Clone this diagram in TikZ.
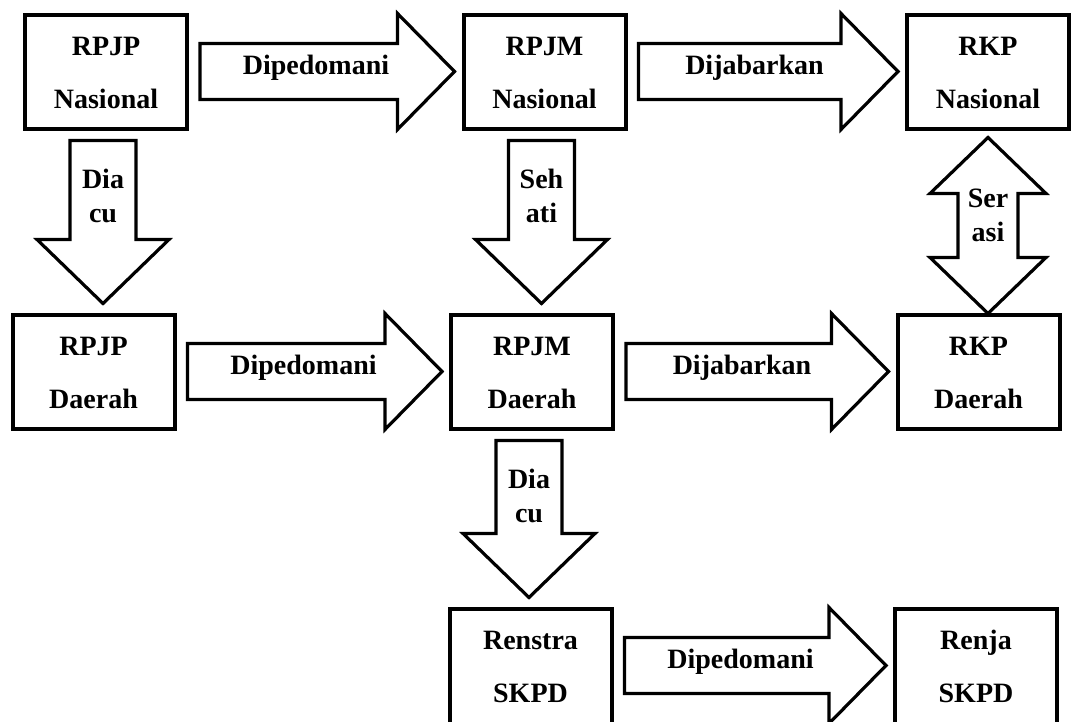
\documentclass[tikz,border=0pt]{standalone}
\usepackage{fontspec}
\setmainfont{Liberation Serif}
\usetikzlibrary{shapes,arrows,positioning,calc}

% fat arrows between the boxes
\newcommand{\hblock}[3]{%
  \draw[blockarrow] let \p1=($(#1.east)+(11,1)$), \p2=($(#2.west)+(-7,0)$) in
    (\x1,\y1+28) -- (\x2-57,\y1+28) -- (\x2-57,\y1+58) -- (\x2,\y1)
    -- (\x2-57,\y1-58) -- (\x2-57,\y1-28) -- (\x1,\y1-28) -- cycle
    node[arrowtext, anchor=base] (#1-#2) at (\x1+116,\y1-3) {#3};}
\newcommand{\vblock}[3]{%
  \draw[blockarrow] let \p1=($(#1.south)+(-3,-9)$), \p2=($(#2.north)+(0,10)$) in
    (\x1-33,\y1) -- (\x1+33,\y1) -- (\x1+33,\y2+64) -- (\x1+66,\y2+64) -- (\x1,\y2)
    -- (\x1-66,\y2+64) -- (\x1-33,\y2+64) -- cycle
    node[arrowtext, anchor=base] (#1-#2) at (\x1,\y1-82) {#3};}
\newcommand{\dblock}[3]{%
  \draw[blockarrow] let \p1=($(#1.south)+(0,-6)$), \p2=(#2.north) in
    (\x1,\y1) -- (\x1+58,\y1-56) -- (\x1+30,\y1-56) -- (\x1+30,\y2+56) -- (\x1+58,\y2+56)
    -- (\x1,\y2) -- (\x1-58,\y2+56) -- (\x1-30,\y2+56) -- (\x1-30,\y1-56) -- (\x1-58,\y1-56) -- cycle
    node[arrowtext, anchor=base] (#1-#2) at (\x1,\y1-104) {#3};}

\begin{document}
\begin{tikzpicture}[x=1pt, y=1pt,
    box/.style={draw, line width=4pt, minimum width=162pt, minimum height=114pt, align=center, font=\bfseries\fontsize{28}{53}\selectfont},
    blockarrow/.style={draw, line width=3.2pt, line join=miter, fill=white},
    arrowtext/.style={align=center, inner sep=0pt, font=\bfseries\fontsize{28}{34}\selectfont}]
  \useasboundingbox (0,0) rectangle (1072,721);
  \clip (0,0) rectangle (1072,721);

  % Nasional
  \node[box] (rpjpn) at (106,648.5) {RPJP\\Nasional};
  \node[box] (rpjmn) at (544.5,648.5) {RPJM\\Nasional};
  \node[box] (rkpn) at (988,648.5) {RKP\\Nasional};

  % Daerah
  \node[box] (rpjpd) at (93.5,348.5) {RPJP\\Daerah};
  \node[box] (rpjmd) at (532,348.5) {RPJM\\Daerah};
  \node[box] (rkpd) at (978.5,348.5) {RKP\\Daerah};

  % SKPD
  \node[box] (renstra) at (530.5,54.5) {Renstra\\SKPD};
  \node[box] (renja) at (976,54.5) {Renja\\SKPD};

  \hblock{rpjpn}{rpjmn}{Dipedomani}
  \hblock{rpjmn}{rkpn}{Dijabarkan}
  \hblock{rpjpd}{rpjmd}{Dipedomani}
  \hblock{rpjmd}{rkpd}{Dijabarkan}
  \hblock{renstra}{renja}{Dipedomani}

  \vblock{rpjpn}{rpjpd}{Dia\\cu}
  \vblock{rpjmn}{rpjmd}{Seh\\ati}
  \vblock{rpjmd}{renstra}{Dia\\cu}
  \dblock{rkpn}{rkpd}{Ser\\asi}
\end{tikzpicture}
\end{document}
